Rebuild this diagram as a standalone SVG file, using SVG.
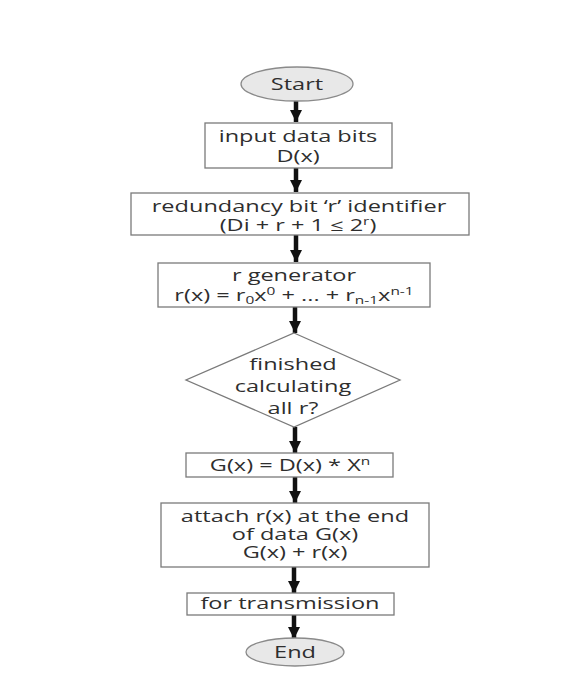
<svg xmlns="http://www.w3.org/2000/svg" width="588" height="698" viewBox="0 0 588 698">
<defs>
<style>
.t{font-family:"Open Sans","Liberation Sans",sans-serif;font-size:16px;fill:#2e2e2e;text-anchor:middle}
.box{fill:#fff;stroke:#7a7a7a;stroke-width:1.3}
.ell{fill:#e8e8e8;stroke:#8a8a8a;stroke-width:1.3}
.sh{stroke:#111;stroke-width:4.5;fill:none}
.hd{fill:#111}
.sub{font-size:10.5px}
</style>
<marker id="ah" markerUnits="userSpaceOnUse" markerWidth="16" markerHeight="12" refX="15" refY="7.5" orient="auto" viewBox="0 0 16 15">
<path d="M0,0 L15,7.5 L0,15 Z" class="hd"/>
</marker>
</defs>
<rect width="588" height="698" fill="#fff"/>
<g id="connectors">
<line class="sh" x1="296" y1="101" x2="296" y2="122" marker-end="url(#ah)"/>
<line class="sh" x1="296" y1="168" x2="296" y2="192" marker-end="url(#ah)"/>
<line class="sh" x1="296" y1="235" x2="296" y2="262" marker-end="url(#ah)"/>
<line class="sh" x1="295" y1="307" x2="295" y2="333" marker-end="url(#ah)"/>
<line class="sh" x1="295" y1="427" x2="295" y2="453" marker-end="url(#ah)"/>
<line class="sh" x1="295" y1="477" x2="295" y2="503" marker-end="url(#ah)"/>
<line class="sh" x1="294" y1="567" x2="294" y2="593" marker-end="url(#ah)"/>
<line class="sh" x1="294" y1="615" x2="294" y2="639" marker-end="url(#ah)"/>
</g>
<g id="start">
<ellipse class="ell" cx="297" cy="84" rx="56" ry="17"/>
<text class="t" transform="translate(297,0) scale(1.47,1)" x="0" y="90">Start</text>
</g>
<g id="input">
<rect class="box" x="205" y="123" width="187" height="45"/>
<text class="t" transform="translate(298,0) scale(1.47,1)" x="0" y="142">input data bits</text>
<text class="t" transform="translate(298,0) scale(1.47,1)" x="0" y="162">D(x)</text>
</g>
<g id="redundancy">
<rect class="box" x="131" y="193" width="338" height="42"/>
<text class="t" transform="translate(299,0) scale(1.47,1)" x="0" y="212">redundancy bit ‘r’ identifier</text>
<text class="t" transform="translate(298,0) scale(1.47,1)" x="0" y="231">(Di + r + 1 ≤ 2<tspan class="sub" dy="-6">r</tspan><tspan dy="6">)</tspan></text>
</g>
<g id="rgen">
<rect class="box" x="158" y="263" width="272" height="44"/>
<text class="t" transform="translate(294,0) scale(1.47,1)" x="0" y="281">r generator</text>
<text class="t" transform="translate(294,0) scale(1.47,1)" x="0" y="301">r(x) = r<tspan class="sub" dy="3">0</tspan><tspan dy="-3">x</tspan><tspan class="sub" dy="-6">0</tspan><tspan dy="6"> + ... + r</tspan><tspan class="sub" dy="3">n-1</tspan><tspan dy="-3">x</tspan><tspan class="sub" dy="-6">n-1</tspan></text>
</g>
<g id="decision">
<polygon class="box" points="294,333 400,380 294,427 186,380"/>
<text class="t" transform="translate(293,0) scale(1.47,1)" x="0" y="370">finished</text>
<text class="t" transform="translate(293,0) scale(1.47,1)" x="0" y="392">calculating</text>
<text class="t" transform="translate(293,0) scale(1.47,1)" x="0" y="414">all r?</text>
</g>
<g id="gx">
<rect class="box" x="186" y="453" width="207" height="24"/>
<text class="t" transform="translate(290,0) scale(1.47,1)" x="0" y="471">G(x) = D(x) * X<tspan class="sub" dy="-6">n</tspan></text>
</g>
<g id="attach">
<rect class="box" x="161" y="503" width="268" height="64"/>
<text class="t" transform="translate(295,0) scale(1.47,1)" x="0" y="522">attach r(x) at the end</text>
<text class="t" transform="translate(295,0) scale(1.47,1)" x="0" y="540">of data G(x)</text>
<text class="t" transform="translate(295,0) scale(1.47,1)" x="0" y="558">G(x) + r(x)</text>
</g>
<g id="transmission">
<rect class="box" x="187" y="593" width="207" height="22"/>
<text class="t" transform="translate(290,0) scale(1.47,1)" x="0" y="609">for transmission</text>
</g>
<g id="end">
<ellipse class="ell" cx="295" cy="652" rx="49" ry="14"/>
<text class="t" transform="translate(295,0) scale(1.47,1)" x="0" y="658">End</text>
</g>
</svg>
